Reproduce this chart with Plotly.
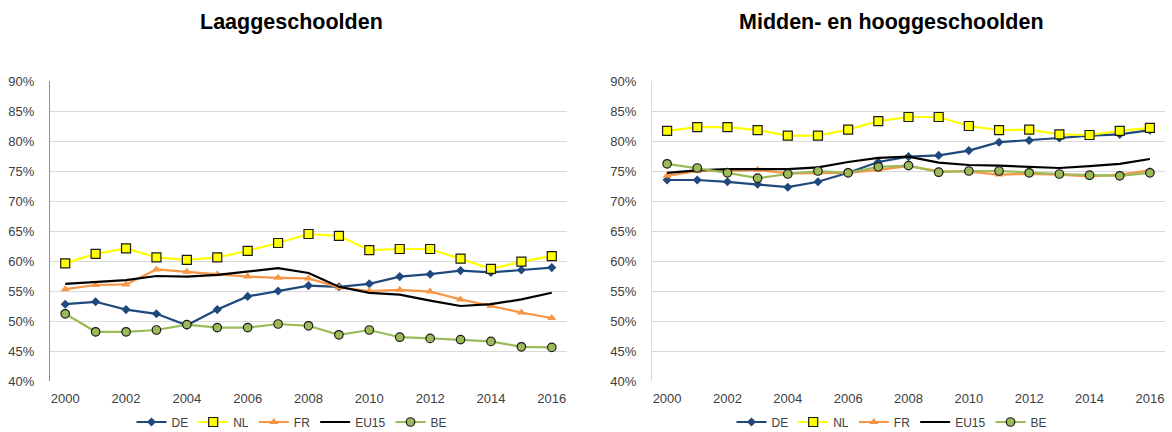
import plotly.graph_objects as go

years = list(range(2000, 2017))

# Laaggeschoolden (percent)
low_de = [52.8, 53.2, 51.9, 51.2, 49.3, 51.9, 54.1, 55.0, 55.9, 55.7, 56.2, 57.4, 57.8, 58.4, 58.1, 58.5, 58.9]
low_nl = [59.6, 61.2, 62.1, 60.6, 60.2, 60.6, 61.7, 63.0, 64.5, 64.2, 61.8, 62.0, 62.0, 60.4, 58.7, 59.9, 60.8]
low_fr = [55.3, 56.0, 56.1, 58.6, 58.2, 57.8, 57.4, 57.2, 57.1, 55.6, 55.0, 55.2, 54.9, 53.6, 52.5, 51.4, 50.5]
low_eu15 = [56.2, 56.5, 56.8, 57.5, 57.4, 57.7, 58.3, 58.8, 58.0, 55.7, 54.7, 54.4, 53.4, 52.5, 52.8, 53.6, 54.7]
low_be = [51.2, 48.2, 48.2, 48.5, 49.4, 48.9, 48.9, 49.5, 49.2, 47.7, 48.5, 47.3, 47.1, 46.9, 46.6, 45.7, 45.6]

# Midden- en hooggeschoolden (percent)
high_de = [73.5, 73.5, 73.2, 72.8, 72.3, 73.2, 74.7, 76.5, 77.4, 77.6, 78.4, 79.8, 80.1, 80.5, 80.9, 81.1, 81.8]
high_nl = [81.7, 82.3, 82.3, 81.8, 80.9, 80.9, 81.9, 83.3, 84.0, 84.0, 82.5, 81.8, 81.9, 81.1, 81.0, 81.7, 82.2]
high_fr = [74.2, 75.0, 75.0, 75.2, 74.6, 74.7, 74.7, 75.2, 75.8, 75.0, 74.9, 74.4, 74.5, 74.4, 74.1, 74.4, 75.1]
high_eu15 = [74.7, 75.1, 75.3, 75.3, 75.3, 75.6, 76.5, 77.2, 77.4, 76.4, 76.0, 75.9, 75.7, 75.5, 75.8, 76.2, 77.0]
high_be = [76.2, 75.5, 74.7, 73.8, 74.5, 75.0, 74.7, 75.7, 75.9, 74.8, 75.0, 75.0, 74.7, 74.5, 74.3, 74.2, 74.7]

titles = ["Laaggeschoolden", "Midden- en hooggeschoolden"]

FONT = "Arial, Liberation Sans, sans-serif"

styles = {
    "DE": dict(color="#1f497d", symbol="diamond", size=7, line=dict(width=0)),
    "NL": dict(color="#ffff00", symbol="square", size=9, line=dict(width=1.2, color="#1a1a1a")),
    "FR": dict(color="#f79646", symbol="triangle-up", size=8, line=dict(width=0)),
    "EU15": None,
    "BE": dict(color="#9bbb59", symbol="circle", size=8.5, line=dict(width=1.2, color="#1a1a1a")),
}
line_colors = {"DE": "#1f497d", "NL": "#ffff00", "FR": "#f79646", "EU15": "#000000", "BE": "#9bbb59"}

panels = [
    dict(DE=low_de, NL=low_nl, FR=low_fr, EU15=low_eu15, BE=low_be),
    dict(DE=high_de, NL=high_nl, FR=high_fr, EU15=high_eu15, BE=high_be),
]

fig = go.Figure()
for i, series in enumerate(panels):
    ax = "" if i == 0 else "2"
    for name in ["DE", "NL", "FR", "EU15", "BE"]:
        m = styles[name]
        fig.add_trace(go.Scatter(
            x=years, y=series[name], name=name,
            mode="lines" if m is None else "lines+markers",
            line=dict(color=line_colors[name], width=2.2),
            marker=m,
            xaxis="x" + ax, yaxis="y" + ax,
            legend="legend" if i == 0 else "legend2",
        ))

W, H = 1172, 432
dom_x = [[50 / W, 567 / W], [652 / W, 1165 / W]]
dom_y = [(H - 381) / H, (H - 81) / H]
legend_x = [292 / W, 892 / W]
title_x = [291 / W, 891 / W]

for i in range(2):
    ax = "" if i == 0 else "2"
    fig.update_layout(**{
        "xaxis" + ax: dict(
            domain=dom_x[i], range=[1999.5, 2016.5], tickmode="linear", tick0=2000, dtick=2,
            showgrid=False, zeroline=False, showline=False, ticks="",
            tickfont=dict(family=FONT, size=13, color="#404040"), ticklabelstandoff=8,
            anchor="y" + ax, fixedrange=True, automargin=False,
        ),
        "yaxis" + ax: dict(
            domain=dom_y, range=[40, 90], dtick=5, ticksuffix="%",
            showgrid=True, gridcolor="#d9d9d9", gridwidth=1, zeroline=False,
            showline=True, linecolor="#8c8c8c" if i == 0 else "#d9d9d9", linewidth=1,
            ticks="", tickfont=dict(family=FONT, size=13, color="#404040"), ticklabelstandoff=12,
            anchor="x" + ax, fixedrange=True, automargin=False,
        ),
    })
    fig.add_annotation(
        text="<b>%s</b>" % titles[i], xref="paper", yref="paper",
        x=title_x[i], y=(H - 22) / H, xanchor="center", yanchor="middle",
        showarrow=False, font=dict(family=FONT, size=21.5, color="#000000"),
    )

leg = dict(orientation="h", xanchor="center", yanchor="middle", y=10 / H,
           font=dict(family=FONT, size=12, color="#404040"), itemwidth=30,
           bgcolor="rgba(0,0,0,0)", tracegroupgap=0)
fig.update_layout(
    legend=dict(leg, x=legend_x[0]),
    legend2=dict(leg, x=legend_x[1]),
    width=W, height=H,
    margin=dict(l=0, r=0, t=0, b=0, autoexpand=False),
    plot_bgcolor="white", paper_bgcolor="white",
    font=dict(family=FONT),
)

# the page body has a default 8px margin; remove it so the figure sits at the window corner
fig.write_html("out.html", config={"displayModeBar": False},
               post_script="document.body.style.margin='0';")
